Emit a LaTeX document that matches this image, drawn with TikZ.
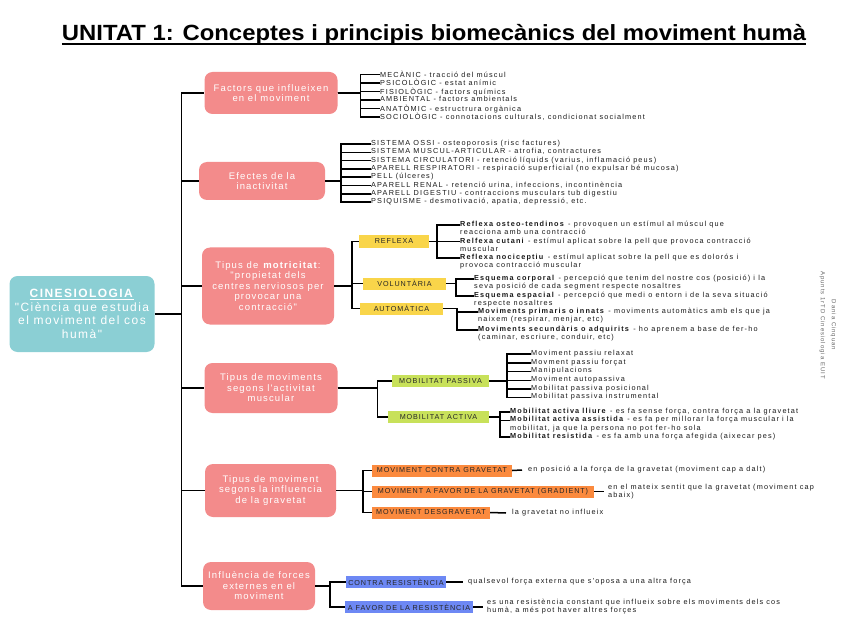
\documentclass[tikz,border=0pt]{standalone}
\usepackage{fontspec}
\setmainfont{Liberation Sans}
\newfontfamily\spfont[LetterSpace=16]{Liberation Sans}
\newfontfamily\boxfont[LetterSpace=12]{Liberation Sans}
\newfontfamily\tagfont[LetterSpace=13]{Liberation Sans}
\usetikzlibrary{calc}
\definecolor{pinkc}{HTML}{F38B8B}
\definecolor{tealc}{HTML}{8BCFD4}
\definecolor{yelc}{HTML}{F9D54A}
\definecolor{grnc}{HTML}{C8E15A}
\definecolor{orgc}{HTML}{FB8A3E}
\definecolor{bluc}{HTML}{6D88F4}
\tikzset{
 conn/.style={line width=1.5pt, black},
 pbox/.style={fill=pinkc, rounded corners=8pt, text=white, align=center, font=\fontsize{9.5}{10.5}\selectfont\boxfont, inner sep=2pt},
 tagb/.style={font=\fontsize{7.2}{7.5}\selectfont\tagfont, text=black!85, inner sep=0pt, minimum height=12pt},
 itm/.style={anchor=north west, align=left, font=\fontsize{7.3}{8.3}\selectfont\spfont, text=black!90, inner sep=0pt, yshift=4pt},
}
\begin{document}
\begin{tikzpicture}[x=1pt,y=-1pt]
\useasboundingbox (0,0) rectangle (848,636);
% title
\node[anchor=base, inner sep=0pt, font=\fontsize{22}{24}\selectfont\bfseries] (title) at (434,41) {\scalebox{1.085}[1]{UNITAT 1: Conceptes i principis biomecànics del moviment humà}};
\draw[line width=1.5pt] ([yshift=-3pt]title.base west) -- ([yshift=-3pt]title.base east);
% root
\node[fill=tealc, rounded corners=8pt, text=white, align=center, minimum width=145pt, minimum height=76pt, font=\fontsize{12}{13.5}\selectfont\boxfont] (cin) at (82,314) {\underline{\textbf{CINESIOLOGIA}}\\"Ciència que estudia\\el moviment del cos\\humà"};
% signature
\node[rotate=-90, align=center, font=\fontsize{6}{11}\selectfont\spfont, text=black!60] (sig) at (828,325) {Dania Cinquan\\Apunts 1rTD Cinesiologia EUIT};
% pink boxes
\node[pbox, minimum width=133pt, minimum height=42pt] (fac) at (271,93) {Factors que influeixen\\en el moviment};
\node[pbox, minimum width=126pt, minimum height=38pt] (efe) at (262,181) {Efectes de la\\inactivitat};
\node[pbox, minimum width=132pt, minimum height=77pt] (mot) at (268,286) {Tipus de \textbf{motricitat}:\\"propietat dels\\centres nerviosos per\\provocar una\\contracció"};
\node[pbox, minimum width=133pt, minimum height=50pt] (mov) at (271,388) {Tipus de moviments\\segons l'activitat\\muscular};
\node[pbox, minimum width=131pt, minimum height=53pt] (gra) at (270.5,490.5) {Tipus de moviment\\segons la influencia\\de la gravetat};
\node[pbox, minimum width=112pt, minimum height=48pt] (for) at (259,586) {Influència de forces\\externes en el\\moviment};
% trunk
\draw[conn] (cin.east) -- ++(27,0) coordinate (tr);
\foreach \b in {fac,efe,mot,mov,gra,for} \draw[conn] (tr) |- (\b.west);
% factors items
\node[itm] (f1) at (380,74.5) {MECÀNIC - tracció del múscul};
\node[itm] (f2) at (380,83) {PSICOLÒGIC - estat anímic};
\node[itm] (f3) at (380,91.5) {FISIOLÒGIC - factors químics};
\node[itm] (f4) at (380,100) {AMBIENTAL - factors ambientals};
\node[itm] (f5) at (380,108.5) {ANATÒMIC - estructrura orgànica};
\node[itm] (f6) at (380,117) {SOCIOLÒGIC - connotacions culturals, condicionat socialment};
\foreach \i in {f1,f2,f3,f4,f5,f6} \draw[conn] (fac.east) -- ++(23,0) |- ([yshift=-4pt]\i.north west);
% effects items
\node[itm] (e1) at (371,144) {SISTEMA OSSI - osteoporosis (risc factures)};
\node[itm] (e2) at (371,152.3) {SISTEMA MUSCUL-ARTICULAR - atrofia, contractures};
\node[itm] (e3) at (371,160.6) {SISTEMA CIRCULATORI - retenció líquids (varius, inflamació peus)};
\node[itm] (e4) at (371,168.9) {APARELL RESPIRATORI - respiració superficial (no expulsar bé mucosa)};
\node[itm] (e5) at (371,177.2) {PELL (úlceres)};
\node[itm] (e6) at (371,185.5) {APARELL RENAL - retenció urina, infeccions, incontinència};
\node[itm] (e7) at (371,193.8) {APARELL DIGESTIU - contraccions musculars tub digestiu};
\node[itm] (e8) at (371,202.1) {PSIQUISME - desmotivació, apatia, depressió, etc.};
\foreach \i in {e1,e2,e3,e4,e5,e6,e7,e8} \draw[conn] (efe.east) -- ++(16,0) |- ([yshift=-4pt]\i.north west);
% motricitat tags
\node[tagb, fill=yelc, minimum width=70pt, minimum height=13pt] (refl) at (394,241.5) {REFLEXA};
\node[tagb, fill=yelc, minimum width=83pt] (volu) at (404.5,283.5) {VOLUNTÀRIA};
\node[tagb, fill=yelc, minimum width=83pt] (auto) at (401.5,308.5) {AUTOMÀTICA};
\foreach \t in {refl,volu,auto} \draw[conn] (mot.east) -- ++(18,0) |- (\t.west);
\node[itm] (r1) at (460,225) {\textbf{Reflexa osteo-tendinos} - provoquen un estímul al múscul que\\reacciona amb una contracció};
\node[itm] (r2) at (460,241.5) {\textbf{Relfexa cutani} - estímul aplicat sobre la pell que provoca contracció\\muscular};
\node[itm] (r3) at (460,258) {\textbf{Reflexa nociceptiu} - estímul aplicat sobre la pell que es dolorós i\\provoca contracció muscular};
\foreach \i in {r1,r2,r3} \draw[conn] (refl.east) -- ++(8,0) |- ([yshift=-4pt]\i.north west);
\node[itm] (v1) at (474,279) {\textbf{Esquema corporal} - percepció que tenim del nostre cos (posició) i la\\seva posició de cada segment respecte nosaltres};
\node[itm] (v2) at (474,296) {\textbf{Esquema espacial} - percepció que medi o entorn i de la seva situació\\respecte nosaltres};
\foreach \i in {v1,v2} \draw[conn] (volu.east) -- ++(10,0) |- ([yshift=-4pt]\i.north west);
\node[itm] (a1) at (478,312) {\textbf{Moviments primaris o innats} - moviments automàtics amb els que ja\\naixem (respirar, menjar, etc)};
\node[itm] (a2) at (478,330) {\textbf{Moviments secundàris o adquirits} - ho aprenem a base de fer-ho\\(caminar, escriure, conduir, etc)};
\foreach \i in {a1,a2} \draw[conn] (auto.east) -- ++(14,0) |- ([yshift=-4pt]\i.north west);
% mobilitat tags
\node[tagb, fill=grnc, minimum width=97pt] (pas) at (440.5,381) {MOBILITAT PASSIVA};
\node[tagb, fill=grnc, minimum width=101pt] (act) at (438.5,417) {MOBILITAT ACTIVA};
\foreach \t in {pas,act} \draw[conn] (mov.east) -- ++(40,0) |- (\t.west);
\node[itm] (p1) at (531,354) {Moviment passiu relaxat};
\node[itm] (p2) at (531,363) {Movment passiu forçat};
\node[itm] (p3) at (531,371.5) {Manipulacions};
\node[itm] (p4) at (531,380.5) {Moviment autopassiva};
\node[itm] (p5) at (531,389) {Mobilitat passiva posicional};
\node[itm] (p6) at (531,397.5) {Mobilitat passiva instrumental};
\foreach \i in {p1,p2,p3,p4,p5,p6} \draw[conn] (pas.east) -- ++(18,0) |- ([yshift=-4pt]\i.north west);
\node[itm] (c1) at (510,412) {\textbf{Mobilitat activa lliure} - es fa sense força, contra força a la gravetat};
\node[itm] (c2) at (510,420.5) {\textbf{Mobilitat activa assistida} - es fa per millorar la força muscular i la\\mobilitat, ja que la persona no pot fer-ho sola};
\node[itm] (c3) at (510,437) {\textbf{Mobilitat resistida} - es fa amb una força afegida (aixecar pes)};
\foreach \i in {c1,c2,c3} \draw[conn] (act.east) -- ++(11,0) |- ([yshift=-4pt]\i.north west);
% gravetat tags
\node[tagb, fill=orgc, minimum width=140pt] (g1) at (442,470.5) {MOVIMENT CONTRA GRAVETAT};
\node[tagb, fill=orgc, minimum width=222pt] (g2) at (483,491.5) {MOVIMENT A FAVOR DE LA GRAVETAT (GRADIENT)};
\node[tagb, fill=orgc, minimum width=118pt] (g3) at (431,512.5) {MOVIMENT DESGRAVETAT};
\foreach \t in {g1,g2,g3} \draw[conn] (gra.east) -- ++(27,0) |- (\t.west);
\node[itm] (t1) at (528,470) {en posició a la força de la gravetat (moviment cap a dalt)};
\node[itm] (t2) at (608,488) {en el mateix sentit que la gravetat (moviment cap\\abaix)};
\node[itm] (t3) at (512,513) {la gravetat no influeix};
\draw[conn] (g1.east) -- ([xshift=-6pt,yshift=-4pt]t1.north west);
\draw[conn] (g2.east) -- (604,491.5);
\draw[conn] (g3.east) -- ([xshift=-6pt,yshift=-4pt]t3.north west);
% forces tags
\node[tagb, fill=bluc, minimum width=100pt] (fr1) at (396,582) {CONTRA RESISTÈNCIA};
\node[tagb, fill=bluc, minimum width=128pt] (fr2) at (409,607) {A FAVOR DE LA RESISTÈNCIA};
\foreach \t in {fr1,fr2} \draw[conn] (for.east) -- ++(15,0) |- (\t.west);
\node[itm] (u1) at (468,582) {qualsevol força externa que s'oposa a una altra força};
\node[itm] (u2) at (487,603) {es una resistència constant que influeix sobre els moviments dels cos\\humà, a més pot haver altres forçes};
\draw[conn] (fr1.east) -- ([xshift=-5pt,yshift=-4pt]u1.north west);
\draw[conn] (fr2.east) -- (483,607);
\end{tikzpicture}
\end{document}
